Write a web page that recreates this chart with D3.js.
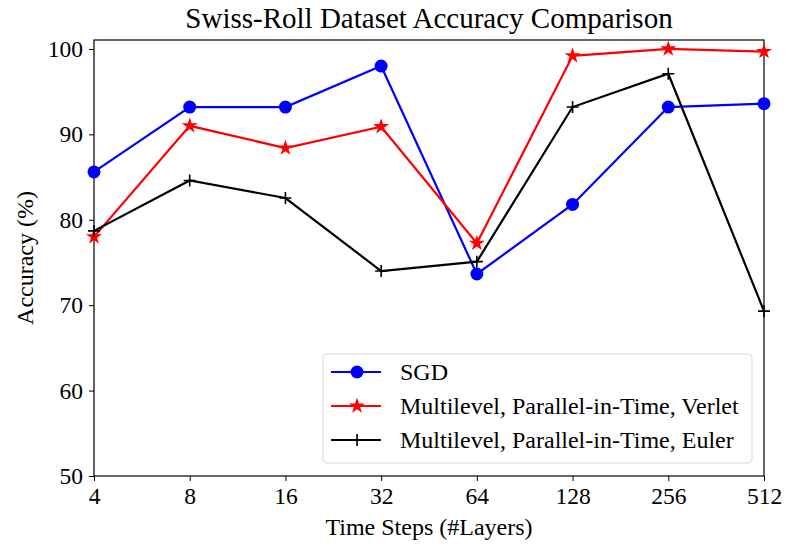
<!DOCTYPE html>
<html>
<head>
<meta charset="utf-8">
<script src="https://cdn.jsdelivr.net/npm/d3@7"></script>
<style>
  body { margin: 0; background: #fff; }
  text { font-family: "Liberation Serif", "DejaVu Serif", serif; fill: #000; }
</style>
</head>
<body>
<div id="chart"></div>
<script>
// Données
const steps = ['4', '8', '16', '32', '64', '128', '256', '512'];
const sgd = [85.6, 93.2, 93.2, 98.0, 73.65, 81.8, 93.2, 93.6];
const verlet = [78.0, 91.0, 88.4, 90.9, 77.25, 99.2, 100.0, 99.7];
const euler = [78.7, 84.6, 82.55, 74.0, 75.1, 93.2, 97.1, 69.3];
const yTicks = [50, 60, 70, 80, 90, 100];

const seriesList = [
    { name: 'SGD', values: sgd, color: '#0000ff', marker: 'circle' },
    { name: 'Multilevel, Parallel-in-Time, Verlet', values: verlet, color: '#ff0000', marker: 'star' },
    { name: 'Multilevel, Parallel-in-Time, Euler', values: euler, color: '#000000', marker: 'plus' }
];

const width = 785, height = 546;
const margin = { top: 40, right: 21, bottom: 70, left: 94 };

const svg = d3.select('#chart').append('svg')
    .attr('width', width)
    .attr('height', height);

const x = d3.scalePoint()
    .domain(steps)
    .range([margin.left, width - margin.right]);

const y = d3.scaleLinear()
    .domain([50, 101.05])
    .range([height - margin.bottom, margin.top]);

// Axes
const xAxis = svg.append('g')
    .attr('transform', `translate(0,${height - margin.bottom})`)
    .call(d3.axisBottom(x).tickSize(5).tickPadding(6));
const yAxis = svg.append('g')
    .attr('transform', `translate(${margin.left},0)`)
    .call(d3.axisLeft(y).tickValues(yTicks).tickSize(5).tickPadding(6));

[xAxis, yAxis].forEach(a => {
    a.select('.domain').remove();
    a.selectAll('.tick line').attr('stroke', '#000').attr('stroke-width', 1);
    a.selectAll('.tick text').style('font-size', '23.5px').attr('fill', '#000');
});

// Cadre
svg.append('rect')
    .attr('x', margin.left)
    .attr('y', margin.top)
    .attr('width', width - margin.left - margin.right)
    .attr('height', height - margin.top - margin.bottom)
    .attr('fill', 'none')
    .attr('stroke', '#000')
    .attr('stroke-width', 1.2);

// Symboles
function drawMarker(g, type, color) {
    if (type === 'circle') {
        g.append('circle').attr('r', 6.5).attr('fill', color);
    } else if (type === 'star') {
        g.append('path')
            .attr('d', d3.symbol().type(d3.symbolStar).size(80)())
            .attr('fill', color);
    } else {
        g.append('path')
            .attr('d', 'M-6,0H6M0,-6V6')
            .attr('stroke', color)
            .attr('stroke-width', 1.6);
    }
}

const line = d3.line()
    .x((d, i) => x(steps[i]))
    .y(d => y(d));

const plot = svg.append('g');

seriesList.forEach(s => {
    plot.append('path')
        .datum(s.values)
        .attr('d', line)
        .attr('fill', 'none')
        .attr('stroke', s.color)
        .attr('stroke-width', 2.2);

    s.values.forEach((v, i) => {
        const g = plot.append('g')
            .attr('transform', `translate(${x(steps[i])},${y(v)})`);
        drawMarker(g, s.marker, s.color);
    });
});

// Titre et libellés
svg.append('text')
    .attr('x', (margin.left + width - margin.right) / 2)
    .attr('y', 28)
    .attr('text-anchor', 'middle')
    .style('font-size', '29px')
    .text('Swiss-Roll Dataset Accuracy Comparison');

svg.append('text')
    .attr('x', (margin.left + width - margin.right) / 2)
    .attr('y', 535)
    .attr('text-anchor', 'middle')
    .style('font-size', '24px')
    .text('Time Steps (#Layers)');

svg.append('text')
    .attr('transform', `translate(33,${(margin.top + height - margin.bottom) / 2}) rotate(-90)`)
    .attr('text-anchor', 'middle')
    .style('font-size', '24px')
    .text('Accuracy (%)');

// Légende
const legend = svg.append('g').attr('transform', 'translate(323,354)');
legend.append('rect')
    .attr('width', 429)
    .attr('height', 109)
    .attr('rx', 4)
    .attr('fill', '#fff')
    .attr('fill-opacity', 0.8)
    .attr('stroke', '#d9d9d9')
    .attr('stroke-width', 1);

seriesList.forEach((s, i) => {
    const row = legend.append('g').attr('transform', `translate(0,${18 + i * 34})`);
    row.append('line')
        .attr('x1', 8).attr('x2', 58)
        .attr('stroke', s.color)
        .attr('stroke-width', 2.2);
    drawMarker(row.append('g').attr('transform', 'translate(34,0)'), s.marker, s.color);
    row.append('text')
        .attr('x', 77)
        .attr('y', 8)
        .style('font-size', '24px')
        .text(s.name);
});
</script>
</body>
</html>
